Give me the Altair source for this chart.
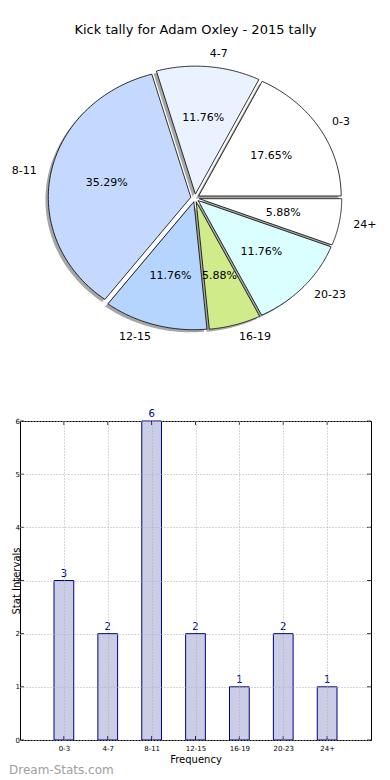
import altair as alt
import pandas as pd

# ---- data ----
cats = ["0-3", "4-7", "8-11", "12-15", "16-19", "20-23", "24+"]
vals = [3, 2, 6, 2, 1, 2, 1]
pie_colors = ["#ffffff", "#ebf2ff", "#c5d9ff", "#b5d5ff", "#d0eb8a", "#dbffff", "#ffffff"]
title_text = "Kick tally for Adam Oxley - 2015 tally"
y_ticks = [0, 1, 2, 3, 4, 5, 6]
x_title = "Frequency"
y_title = "Stat Intervals"
watermark = "Dream-Stats.com"

df = pd.DataFrame({"cat": cats, "val": vals, "idx": list(range(len(cats)))})

FONT = "DejaVu Sans"
PW, PH = 351, 370
BW, BH = 351, 319
XD = [-1.228, 1.235]
YD = [-1.406, 1.484]
EXPL = 0.03
N = 72

xs = alt.Scale(domain=XD, nice=False, zero=False)
ys = alt.Scale(domain=YD, nice=False, zero=False)


def pie_base():
    return (
        alt.Chart(df)
        .transform_joinaggregate(total="sum(val)")
        .transform_window(cum="sum(val)", sort=[alt.SortField("idx")], frame=[None, 0])
        .transform_calculate(
            a0="2*PI*(datum.cum-datum.val)/datum.total",
            a1="2*PI*datum.cum/datum.total",
        )
        .transform_calculate(am="(datum.a0+datum.a1)/2")
        .transform_calculate(ex=f"{EXPL}*cos(datum.am)", ey=f"{EXPL}*sin(datum.am)")
    )


poly = (
    pie_base()
    .transform_calculate(steps=f"sequence(0,{N + 2})")
    .transform_flatten(["steps"], as_=["s"])
    .transform_calculate(
        on=f"datum.s>=1 && datum.s<={N}",
        ang=f"datum.a0+(datum.a1-datum.a0)*clamp((datum.s-1)/{N - 1},0,1)",
    )
    .transform_calculate(
        px="datum.ex + (datum.on ? cos(datum.ang) : 0)",
        py="datum.ey + (datum.on ? sin(datum.ang) : 0)",
    )
    .transform_calculate(sx="datum.px-0.02", sy="datum.py-0.02")
)

shadow = poly.mark_line(strokeWidth=0, fill="#4d4d4d", fillOpacity=0.5).encode(
    x=alt.X("sx:Q", scale=xs, axis=None),
    y=alt.Y("sy:Q", scale=ys, axis=None),
    order="s:Q",
    detail="cat:N",
)

wedges = poly.mark_line(stroke="black", strokeWidth=0.8).encode(
    x=alt.X("px:Q", scale=xs, axis=None),
    y=alt.Y("py:Q", scale=ys, axis=None),
    order="s:Q",
    detail="cat:N",
    fill=alt.Fill("cat:N", scale=alt.Scale(domain=cats, range=pie_colors), legend=None),
)

lab = pie_base().transform_calculate(
    xt="datum.ex+1.1*cos(datum.am)",
    yt="datum.ey+1.1*sin(datum.am)",
    xp="datum.ex+0.6*cos(datum.am)",
    yp="datum.ey+0.6*sin(datum.am)",
    pct="format(100*datum.val/datum.total,'.2f')+'%'",
)
labL = lab.transform_filter("datum.xt>0").mark_text(
    align="left", baseline="middle", fontSize=11, font=FONT, color="black"
).encode(x=alt.X("xt:Q", scale=xs, axis=None), y=alt.Y("yt:Q", scale=ys, axis=None), text="cat:N")
labR = lab.transform_filter("datum.xt<=0").mark_text(
    align="right", baseline="middle", fontSize=11, font=FONT, color="black"
).encode(x=alt.X("xt:Q", scale=xs, axis=None), y=alt.Y("yt:Q", scale=ys, axis=None), text="cat:N")
pcts = lab.mark_text(
    align="center", baseline="middle", fontSize=11, font=FONT, color="black"
).encode(x=alt.X("xp:Q", scale=xs, axis=None), y=alt.Y("yp:Q", scale=ys, axis=None), text="pct:N")

ttl = alt.Chart(pd.DataFrame({"t": [title_text]})).mark_text(
    align="center", baseline="middle", fontSize=13, font=FONT, color="black"
).encode(text="t:N", x=alt.value(175.5), y=alt.value(22))

pie = alt.layer(shadow, wedges, labL, labR, pcts, ttl).properties(
    width=PW, height=PH, view=alt.ViewBackground(strokeOpacity=0)
)

# ---- bar chart ----
bx = alt.Scale(domain=[-1, 7], nice=False, zero=False)
by = alt.Scale(domain=[0, 6], nice=False, zero=False)
label_expr = "[" + ",".join(f"'{c}'" for c in cats) + "][datum.value]"

xaxis = alt.Axis(
    values=list(range(len(cats))), labelExpr=label_expr, title=x_title,
    grid=True, gridDash=[1, 2], gridColor="#b0b0b0", gridWidth=1,
    ticks=False, domain=False, labelFontSize=7, labelPadding=4, labelColor="black",
    titleFontSize=10, titleFontWeight="normal", titlePadding=3, titleColor="black",
    labelFont=FONT, titleFont=FONT, zindex=1,
)
yaxis = alt.Axis(
    values=y_ticks, title=y_title, grid=True, gridDash=[1, 2], gridColor="#b0b0b0",
    gridWidth=1, ticks=False, domain=False, labelFontSize=7, labelPadding=0.5,
    labelColor="black", titleFontSize=10, titleFontWeight="normal", titleColor="black",
    titleX=1, titleY=BH / 2, titleBaseline="bottom", labelFont=FONT, titleFont=FONT, zindex=1,
)

bars = (
    alt.Chart(df)
    .transform_calculate(lo="datum.idx-0.225", hi="datum.idx+0.225", base="0")
    .mark_bar(fill="#cbcce6", stroke="#00008b", strokeWidth=1)
    .encode(
        x=alt.X("lo:Q", scale=bx, axis=xaxis),
        x2="hi:Q",
        y=alt.Y("val:Q", scale=by, axis=yaxis),
        y2="base:Q",
    )
)

vlabels = alt.Chart(df).mark_text(
    baseline="bottom", dy=-2, fontSize=10, font=FONT, color="#00008b"
).encode(x=alt.X("idx:Q", scale=bx), y=alt.Y("val:Q", scale=by), text="val:Q")

tdf = pd.DataFrame({"v": y_ticks})
tick_b = alt.Chart(df).mark_rule(color="black", strokeWidth=0.8).encode(
    x=alt.X("idx:Q", scale=bx), y=alt.value(BH), y2=alt.value(BH - 4))
tick_t = alt.Chart(df).mark_rule(color="black", strokeWidth=0.8).encode(
    x=alt.X("idx:Q", scale=bx), y=alt.value(0), y2=alt.value(4))
tick_l = alt.Chart(tdf).mark_rule(color="black", strokeWidth=0.8).encode(
    y=alt.Y("v:Q", scale=by), x=alt.value(0), x2=alt.value(4))
tick_r = alt.Chart(tdf).mark_rule(color="black", strokeWidth=0.8).encode(
    y=alt.Y("v:Q", scale=by), x=alt.value(BW - 4), x2=alt.value(BW))

wm = alt.Chart(pd.DataFrame({"w": [watermark]})).mark_text(
    align="left", baseline="middle", fontSize=12, font=FONT, color="#a0a0a0"
).encode(text="w:N", x=alt.value(-11), y=alt.value(349))

bar = alt.layer(bars, vlabels, tick_b, tick_t, tick_l, tick_r, wm).properties(
    width=BW, height=BH, view=alt.ViewBackground(stroke="black", strokeWidth=1)
)

chart = (
    alt.vconcat(pie, bar, spacing=43, bounds="flush")
    .properties(padding=0)
    .configure(font=FONT)
)

chart.save("out.html", embed_options={"renderer": "svg", "actions": False})
